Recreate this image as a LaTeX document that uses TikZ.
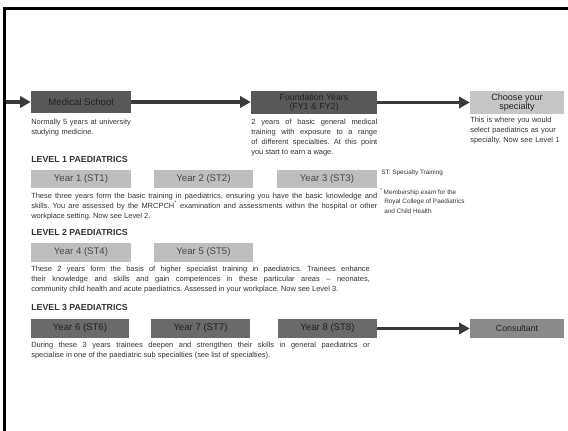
\documentclass[tikz,border=0pt]{standalone}
\usepackage{fontspec}
\setmainfont{Liberation Sans}
\usetikzlibrary{arrows.meta}
\frenchspacing

\definecolor{darkfill}{HTML}{585858}
\definecolor{stfill}{HTML}{6A6A6A}
\definecolor{lightfill}{HTML}{BEBEBE}
\definecolor{choosefill}{HTML}{C6C6C6}
\definecolor{consfill}{HTML}{8A8A8A}
\definecolor{arrowgrey}{HTML}{3A3A3A}
\definecolor{inktext}{HTML}{333333}
\definecolor{boxtext}{HTML}{222222}
\definecolor{lighttext}{HTML}{484848}

\begin{document}
\begin{tikzpicture}[x=0.75pt,y=0.75pt,yscale=-1,xscale=1,
  stagebox/.style={inner sep=0pt, align=center, text=boxtext, font=\fontsize{7.2}{7.2}\selectfont},
  darkbox/.style={stagebox, fill=darkfill},
  stbox/.style={stagebox, fill=stfill, minimum width=74pt, minimum height=14.25pt},
  lightbox/.style={stagebox, fill=lightfill, text=lighttext, minimum width=75pt, minimum height=13.8pt},
  descnote/.style={inner sep=0pt, anchor=north west, text=inktext, font=\fontsize{5.6}{7.5}\selectfont},
  levelhead/.style={inner sep=0pt, anchor=west, text=inktext, font=\fontsize{6.6}{7}\selectfont\bfseries},
  flowarrow/.style={draw=arrowgrey, line width=2.3pt, -{Triangle[length=8pt,width=8.5pt]}}
]
\useasboundingbox (0,0) rectangle (568,431);

% Frame
\draw [line width=2.8pt] (4.5,431) -- (4.5,8.5) -- (568,8.5);

% Text Node
\node [darkbox, minimum width=75pt, minimum height=16.5pt] (medschool) at (81,102) {Medical School};
\node [descnote, text width=84pt, align=left] (medtext) at (31,118.5) {Normally 5 years at university\\studying medicine.};

% Text Node
\node [darkbox, minimum width=94.5pt, minimum height=17.25pt, font=\fontsize{6.6}{7}\selectfont] (foundation) at (314,102.5) {Foundation Years\\(FY1 \& FY2)};
\node [descnote, text width=94.5pt, align=justify] (foundtext) at (251,118.5) {2 years of basic general medical \linebreak training with exposure to a range \linebreak of different specialties. At this point \linebreak you start to earn a wage.};

% Text Node
\node [stagebox, fill=choosefill, minimum width=70.5pt, minimum height=17.25pt, font=\fontsize{6.8}{7.2}\selectfont] (choose) at (517,102.5) {Choose your\\specialty};
\node [descnote, text width=74pt, align=left] (choosetext) at (470,116.5) {This is where you would\\select paediatrics as your\\specialty. Now see Level 1};

% Level 1
\node [levelhead] (levelone) at (31,159) {LEVEL 1 PAEDIATRICS};
\node [lightbox] (stone) at (81,179) {Year 1 (ST1)};
\node [lightbox, minimum width=74.25pt] (sttwo) at (203.5,179) {Year 2 (ST2)};
\node [lightbox] (stthree) at (327,179) {Year 3 (ST3)};
\node [descnote, text width=259.5pt, align=justify] (levelonetext) at (31,192.5) {These three years form the basic training in paediatrics, ensuring you have the basic knowledge and \linebreak skills. You are assessed by the MRCPCH\textsuperscript{*} examination and assessments within the hospital or other \linebreak workplace setting. Now see Level 2.};
\node [descnote, anchor=west, font=\fontsize{4.8}{7}\selectfont] (stnote) at (381,173) {ST: Specialty Training};
\node [descnote, align=left, font=\fontsize{4.8}{7}\selectfont] (examnote) at (380,188.5) {\textsuperscript{*}\,Membership exam for the\\\hspace*{3pt}Royal College of Paediatrics\\\hspace*{3pt}and Child Health};

% Level 2
\node [levelhead] (leveltwo) at (31,232) {LEVEL 2 PAEDIATRICS};
\node [lightbox, minimum height=14.25pt] (stfour) at (81,252.5) {Year 4 (ST4)};
\node [lightbox, minimum width=74.25pt, minimum height=14.25pt] (stfive) at (203.5,252.5) {Year 5 (ST5)};
\node [descnote, text width=254pt, align=justify] (leveltwotext) at (31,265.5) {These 2 years form the basis of higher specialist training in paediatrics. Trainees enhance \linebreak their knowledge and skills and gain competences in these particular areas -- neonates, \linebreak community child health and acute paediatrics. Assessed in your workplace. Now see Level 3.};

% Level 3
\node [levelhead] (levelthree) at (31,307) {LEVEL 3 PAEDIATRICS};
\node [stbox] (stsix) at (80,328.5) {Year 6 (ST6)};
\node [stbox] (stseven) at (200.5,328.5) {Year 7 (ST7)};
\node [stbox] (steight) at (327.5,328.5) {Year 8 (ST8)};
\node [stagebox, fill=consfill, minimum width=70.5pt, minimum height=14.25pt, font=\fontsize{6.6}{7}\selectfont] (consultant) at (517,328.5) {Consultant};
\node [descnote, text width=254pt, align=justify] (levelthreetext) at (31,341.5) {During these 3 years trainees deepen and strengthen their skills in general paediatrics or \linebreak specialise in one of the paediatric sub specialties (see list of specialties).};

% Connection
\coordinate (entry) at (6,102);
\draw [flowarrow] (entry) -- (medschool.west);
\draw [flowarrow] (medschool.east) -- (foundation.west |- medschool.east);
\draw [flowarrow] (foundation.east) -- (choose.west);
\draw [flowarrow] (steight.east) -- (consultant.west);

\end{tikzpicture}
\end{document}
